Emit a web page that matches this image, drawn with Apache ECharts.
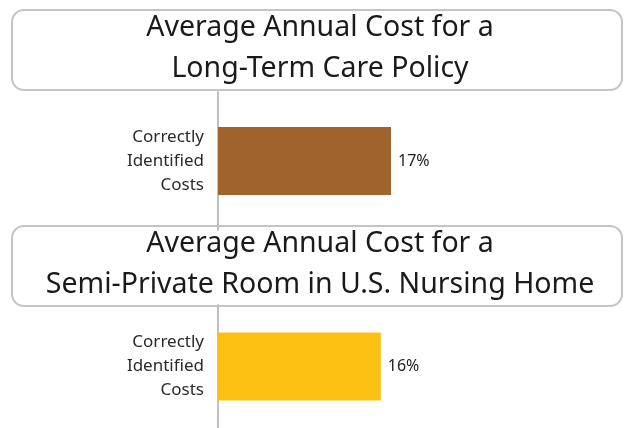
<!DOCTYPE html>
<html>
<head>
<meta charset="utf-8">
<script src="https://cdn.jsdelivr.net/npm/echarts@6/dist/echarts.min.js"></script>
<style>
  html, body { margin: 0; padding: 0; background: #fff; }
  #chart { width: 625px; height: 428px; }
</style>
</head>
<body>
<div id="chart"></div>
<script>
// Data
const panelTitles = [
    'Average Annual Cost for a\nLong-Term Care Policy',
    'Average Annual Cost for a\nSemi-Private Room in U.S. Nursing Home'
];
const categories = ['Correctly\nIdentified\nCosts'];
const longTermCare = [17];
const nursingHome = [16];
const barColors = ['#A0632C', '#FCC012'];

const chart = echarts.init(document.getElementById('chart'));

const fontFamily = 'Noto Sans';
const boxes = [{ y: 10, h: 80 }, { y: 226, h: 80 }];

// Kotak judul bersudut bulat
function titleBox(b, i) {
    return {
        type: 'group',
        z: 100,
        children: [
            {
                type: 'rect',
                shape: { x: 12, y: b.y, width: 610, height: b.h, r: 12 },
                style: { fill: '#fff', stroke: '#c4c4c4', lineWidth: 2 }
            },
            {
                type: 'text',
                x: 320,
                y: b.y + b.h / 2 - 2,
                style: {
                    text: panelTitles[i],
                    fill: '#1a1a1a',
                    font: '28.5px "' + fontFamily + '"',
                    lineHeight: 41,
                    align: 'center',
                    verticalAlign: 'middle'
                }
            }
        ]
    };
}

function yAxisOpt(gridIndex) {
    return {
        type: 'category',
        gridIndex: gridIndex,
        data: categories,
        axisLine: { lineStyle: { color: '#c0c0c0', width: 2 } },
        axisTick: { show: false },
        axisLabel: {
            color: '#2a2a2a',
            fontSize: 17,
            lineHeight: 24,
            fontFamily: fontFamily,
            margin: 14,
            align: 'right'
        }
    };
}

function xAxisOpt(gridIndex) {
    return {
        type: 'value',
        gridIndex: gridIndex,
        min: 0,
        max: 40,
        show: false,
        splitLine: { show: false }
    };
}

function barSeries(idx, values) {
    return {
        type: 'bar',
        xAxisIndex: idx,
        yAxisIndex: idx,
        data: values,
        barWidth: 68,
        itemStyle: { color: barColors[idx] },
        label: {
            show: true,
            position: 'right',
            distance: 7,
            formatter: '{c}%',
            color: '#222',
            fontSize: 16,
            fontFamily: fontFamily
        }
    };
}

chart.setOption({
    animation: false,
    grid: [
        { left: 218, width: 410, top: 92, height: 138 },
        { left: 218, width: 410, top: 305, height: 128 }
    ],
    xAxis: [xAxisOpt(0), xAxisOpt(1)],
    yAxis: [yAxisOpt(0), yAxisOpt(1)],
    series: [barSeries(0, longTermCare), barSeries(1, nursingHome)],
    graphic: boxes.map(titleBox)
});
</script>
</body>
</html>
